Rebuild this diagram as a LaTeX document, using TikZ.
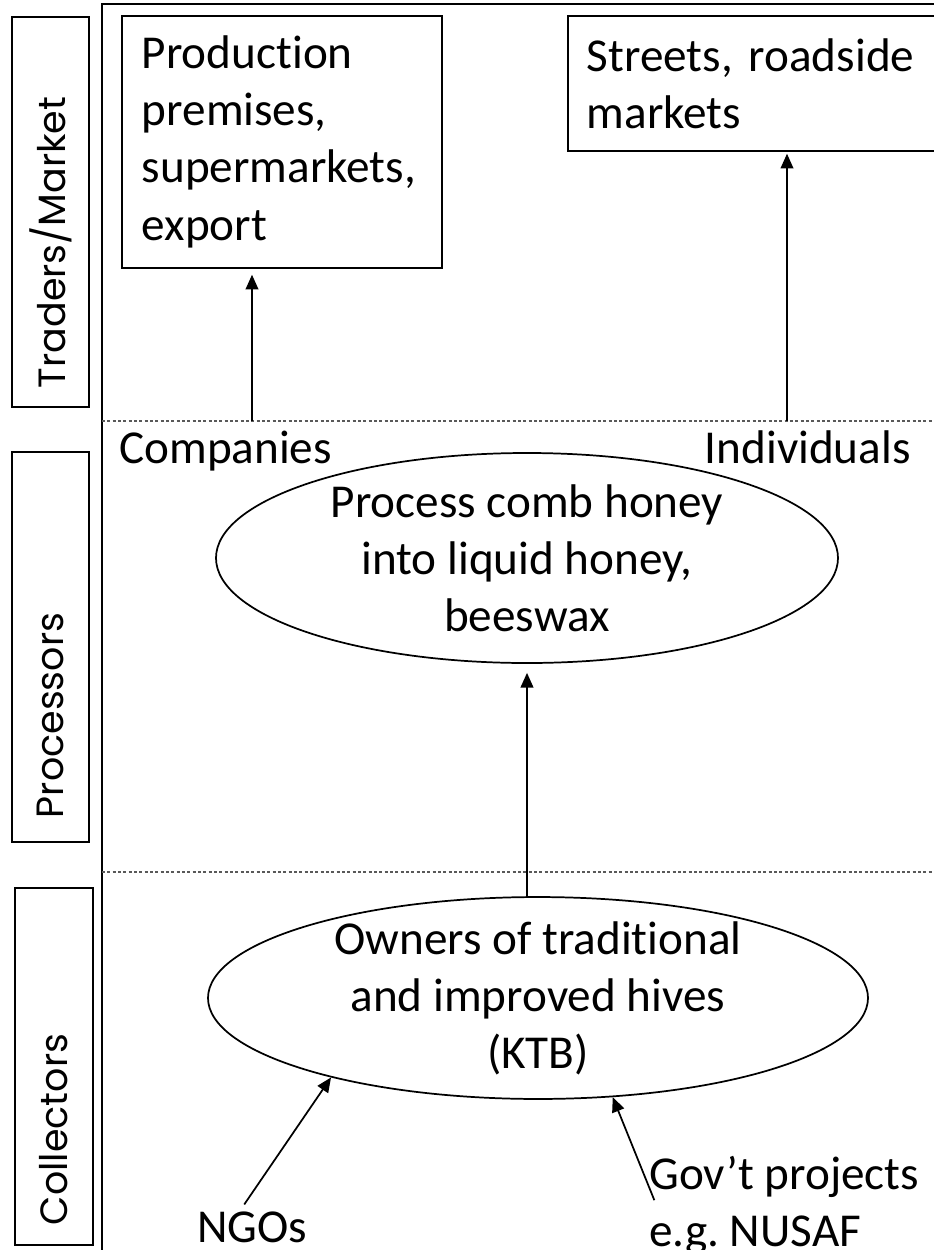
\documentclass[tikz,border=0pt]{standalone}
\usepackage{fontspec}
\setmainfont{Carlito}[Ligatures=NoCommon]
\newfontfamily\levelfont{Poppins}
\usetikzlibrary{shapes.geometric,arrows.meta}
\frenchspacing

\tikzset{
	every node/.style={font=\fontsize{35.4}{42.8}\selectfont, inner sep=0pt},
	place/.style={draw, line width=1.3pt, align=left, anchor=north west},
	actor/.style={draw, ellipse, line width=1.3pt, align=center},
	level/.style={draw, rotate=90, line width=1.3pt, align=left, minimum height=57.75pt, font=\levelfont\fontsize{28.5}{34}\selectfont},
	flow/.style={-{Triangle[length=11pt,width=9.5pt]}, line width=1.3pt},
	divider/.style={dash pattern=on 2.2pt off 1.8pt, black!65, line width=0.9pt}
}

\begin{document}
\begin{tikzpicture}[x=0.75pt, y=-0.75pt]
	\useasboundingbox (0,0) rectangle (933,1250);
	\draw[line width=1.5pt] (102,1260) -- (102,4) -- (945,4);
	\draw[divider] (102,421) -- (933,421);
	\draw[divider] (102,872) -- (933,872);
	
	\node[level, inner xsep=14.25pt, text width=264pt] (traders) at (50.5,212) {Traders/Market};
	\node[level, inner xsep=18pt, text width=256.5pt] (processors) at (50.5,647) {Processors};
	\node[level, inner xsep=15pt, text width=237.75pt, minimum height=58.5pt] (collectors) at (54,1066.5) {Collectors};
	
	\node[place, minimum width=240pt, minimum height=189pt, inner xsep=15pt, text width=210pt] (prod) at (121,15) {Production\\premises,\\supermarkets,\\export};
	\node[place, minimum width=295pt, minimum height=101.25pt, inner xsep=14.25pt, text width=266.5pt] (streets) at (567,15) {Streets, roadside\\markets};
	
	\node[anchor=base west] (companies) at (119,463) {Companies};
	\node[anchor=base east] (individuals) at (911,463) {Individuals};
	
	\node[actor, minimum width=466.5pt, minimum height=157.5pt] (process) at (527,558) {Process comb honey\\into liquid honey,\\beeswax};
	\node[actor, minimum width=495pt, minimum height=150pt, inner ysep=-4pt] (owners) at (538,998) {Owners of traditional\\and improved hives\\(KTB)};
	
	\node[anchor=base west] (ngos) at (197,1242) {NGOs};
	\node[anchor=north west, align=left] (govt) at (649,1156) {Gov’t projects\\e.g. NUSAF};
	
	\coordinate (cfoot) at (252,421);
	\coordinate (ifoot) at (787,421);
	\draw[flow, shorten >=4.5pt] (cfoot) -- (prod.south -| cfoot);
	\draw[flow, shorten >=1.5pt] (ifoot) -- (streets.south -| ifoot);
	\draw[flow, shorten >=6.75pt] (process.south |- owners.north) -- (process.south);
	\draw[flow] ([xshift=-6pt,yshift=5pt]ngos.north) -- (owners.201);
	\draw[flow] ([xshift=4pt,yshift=4pt]govt.west) -- (owners.307);
\end{tikzpicture}
\end{document}
